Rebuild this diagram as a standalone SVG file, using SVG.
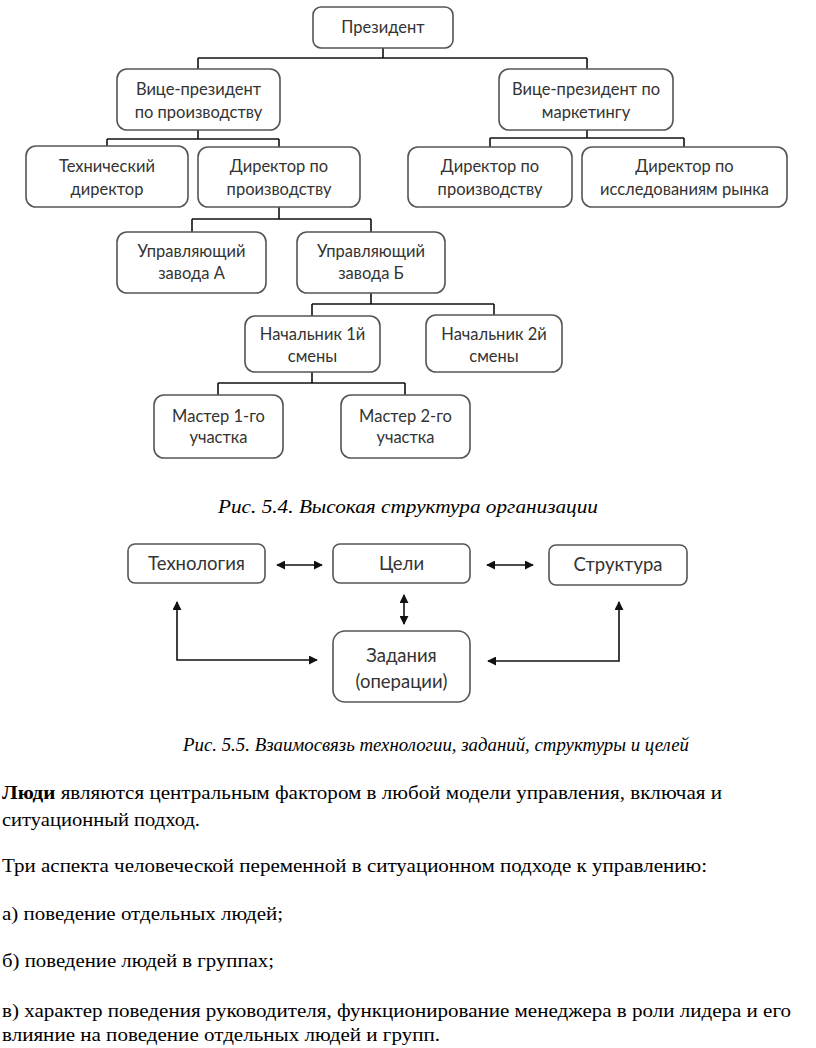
<svg xmlns="http://www.w3.org/2000/svg" width="816" height="1048" viewBox="0 0 816 1048">
<style>
.box{fill:#fff;stroke:#555;stroke-width:1.6}
.t{font-family:Lato,"Open Sans","Liberation Sans",sans-serif;font-size:16.5px;fill:#333;text-anchor:middle}
.t2{font-family:Lato,"Open Sans","Liberation Sans",sans-serif;font-size:18.5px;fill:#333;text-anchor:middle}
.ln{fill:none;stroke:#111;stroke-width:1.6}
.cap{font-family:"Liberation Serif","Times New Roman",serif;font-size:19px;font-style:italic;fill:#000}
.body{font-family:"Liberation Serif","Times New Roman",serif;font-size:19px;fill:#000}
</style>
<defs>
<marker id="ah" viewBox="0 0 10 10" refX="9" refY="5" markerWidth="9" markerHeight="9" markerUnits="userSpaceOnUse" orient="auto-start-reverse">
<path d="M0,0 L10,5 L0,10 z" fill="#111"/>
</marker>
</defs>
<g id="connectors">
<path class="ln" d="M383,48 V58 M198,58 H587 M198,58 V69 M587,58 V69"/>
<path class="ln" d="M198,130 V139 M107,139 H279 M107,139 V146 M279,139 V147"/>
<path class="ln" d="M587,130 V138 M490,138 H684 M490,138 V147 M684,138 V147"/>
<path class="ln" d="M279,207 V219 M192,219 H371 M192,219 V232 M371,219 V232"/>
<path class="ln" d="M371,293 V304 M312,304 H494 M312,304 V316 M494,304 V315"/>
<path class="ln" d="M312,372 V383 M218,383 H405 M218,383 V395 M405,383 V395"/>
<path class="ln" d="M277,565 H322" marker-start="url(#ah)" marker-end="url(#ah)"/>
<path class="ln" d="M487,565 H533" marker-start="url(#ah)" marker-end="url(#ah)"/>
<path class="ln" d="M404,595 V624" marker-start="url(#ah)" marker-end="url(#ah)"/>
<path class="ln" d="M177,602 V660 H317" marker-start="url(#ah)" marker-end="url(#ah)"/>
<path class="ln" d="M619,602 V661 H488" marker-start="url(#ah)" marker-end="url(#ah)"/>
</g>
<g id="president"><rect class="box" x="313" y="7" width="140" height="41" rx="8"/><text class="t" x="383" y="33">Президент</text></g>
<g id="vp-prod"><rect class="box" x="117" y="69" width="163" height="61" rx="10"/><text class="t" x="198.5" y="95">Вице-президент</text><text class="t" x="198.5" y="118">по производству</text></g>
<g id="vp-mkt"><rect class="box" x="499" y="69" width="174" height="61" rx="10"/><text class="t" x="586" y="95">Вице-президент по</text><text class="t" x="586" y="118">маркетингу</text></g>
<g id="tech-dir"><rect class="box" x="26" y="146" width="162" height="61" rx="10"/><text class="t" x="107" y="172">Технический</text><text class="t" x="107" y="195">директор</text></g>
<g id="dir-prod-1"><rect class="box" x="198" y="147" width="162" height="60" rx="10"/><text class="t" x="279" y="172">Директор по</text><text class="t" x="279" y="195">производству</text></g>
<g id="dir-prod-2"><rect class="box" x="408" y="147" width="164" height="60" rx="10"/><text class="t" x="490" y="172">Директор по</text><text class="t" x="490" y="195">производству</text></g>
<g id="dir-research"><rect class="box" x="582" y="147" width="205" height="60" rx="10"/><text class="t" x="684.5" y="172">Директор по</text><text class="t" x="684.5" y="195">исследованиям рынка</text></g>
<g id="mgr-a"><rect class="box" x="117" y="232" width="149" height="61" rx="10"/><text class="t" x="191.5" y="257">Управляющий</text><text class="t" x="191.5" y="279">завода А</text></g>
<g id="mgr-b"><rect class="box" x="297" y="232" width="148" height="61" rx="10"/><text class="t" x="371" y="257">Управляющий</text><text class="t" x="371" y="279">завода Б</text></g>
<g id="shift-1"><rect class="box" x="245" y="316" width="135" height="56" rx="10"/><text class="t" x="312.5" y="340">Начальник 1й</text><text class="t" x="312.5" y="362">смены</text></g>
<g id="shift-2"><rect class="box" x="426" y="315" width="136" height="57" rx="10"/><text class="t" x="494" y="340">Начальник 2й</text><text class="t" x="494" y="362">смены</text></g>
<g id="master-1"><rect class="box" x="154" y="395" width="129" height="63" rx="10"/><text class="t" x="218.5" y="422">Мастер 1-го</text><text class="t" x="218.5" y="443">участка</text></g>
<g id="master-2"><rect class="box" x="341" y="395" width="129" height="63" rx="10"/><text class="t" x="405.5" y="422">Мастер 2-го</text><text class="t" x="405.5" y="443">участка</text></g>
<text class="cap" x="218" y="513" textLength="380" lengthAdjust="spacingAndGlyphs">Рис. 5.4. Высокая структура организации</text>
<g id="technology"><rect class="box" x="128" y="544" width="137" height="39" rx="7"/><text class="t2" x="196.5" y="570">Технология</text></g>
<g id="goals"><rect class="box" x="333" y="544" width="137" height="39" rx="7"/><text class="t2" x="401.5" y="570">Цели</text></g>
<g id="structure"><rect class="box" x="549" y="545" width="138" height="40" rx="7"/><text class="t2" x="618" y="571">Структура</text></g>
<g id="tasks"><rect class="box" x="333" y="631" width="137" height="71" rx="12"/><text class="t2" x="401.5" y="662">Задания</text><text class="t2" x="401.5" y="688">(операции)</text></g>
<text class="cap" x="183" y="751" textLength="506" lengthAdjust="spacingAndGlyphs">Рис. 5.5. Взаимосвязь технологии, заданий, структуры и целей</text>
<text class="body" x="2" y="799" textLength="720" lengthAdjust="spacingAndGlyphs"><tspan font-weight="bold">Люди</tspan> являются центральным фактором в любой модели управления, включая и</text>
<text class="body" x="2" y="826" textLength="198" lengthAdjust="spacingAndGlyphs">ситуационный подход.</text>
<text class="body" x="2" y="872" textLength="705" lengthAdjust="spacingAndGlyphs">Три аспекта человеческой переменной в ситуационном подходе к управлению:</text>
<text class="body" x="2" y="920" textLength="281" lengthAdjust="spacingAndGlyphs">а) поведение отдельных людей;</text>
<text class="body" x="2" y="967" textLength="272" lengthAdjust="spacingAndGlyphs">б) поведение людей в группах;</text>
<text class="body" x="2" y="1017" textLength="789" lengthAdjust="spacingAndGlyphs">в) характер поведения руководителя, функционирование менеджера в роли лидера и его</text>
<text class="body" x="2" y="1041" textLength="438" lengthAdjust="spacingAndGlyphs">влияние на поведение отдельных людей и групп.</text>
</svg>
